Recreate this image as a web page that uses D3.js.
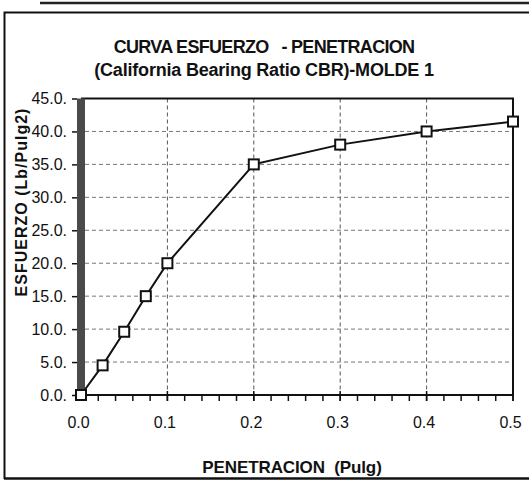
<!DOCTYPE html>
<html>
<head>
<meta charset="utf-8">
<script src="https://cdn.jsdelivr.net/npm/d3@7"></script>
<style>
  html, body { margin: 0; padding: 0; background: #fff; }
  svg { display: block; }
  text { font-family: "Liberation Sans", Arial, sans-serif; fill: #111; white-space: pre; }
</style>
</head>
<body>
<script>
// Penetration (in) and stress (lb/in²) readings for mould 1
const penetracion = [0, 0.025, 0.05, 0.075, 0.1, 0.2, 0.3, 0.4, 0.5];
const esfuerzo = [0, 4.5, 9.6, 15.0, 20.0, 35.0, 38.0, 40.0, 41.5];

const xTicks = [0, 0.1, 0.2, 0.3, 0.4, 0.5];
const xTickLabels = ["0.0", "0.1", "0.2", "0.3", "0.4", "0.5"];
const xMinorTicks = d3.range(0, 0.5001, 0.02);
const yTicks = [0, 5, 10, 15, 20, 25, 30, 35, 40, 45];
const yTickLabels = ["0.0.", "5.0.", "10.0.", "15.0.", "20.0.", "25.0.", "30.0.", "35.0.", "40.0.", "45.0."];

const titleLines = ["CURVA ESFUERZO   - PENETRACION", "(California Bearing Ratio CBR)-MOLDE 1"];
const xTitle = "PENETRACION  (Pulg)";
const yTitle = "ESFUERZO (Lb/Pulg2)";

const W = 529, H = 485;
const plot = { left: 81, right: 513, top: 98.5, bottom: 395 };

const svg = d3.select("body").append("svg").attr("width", W).attr("height", H);

// outer chart frame
svg.append("path")
  .attr("d", `M4.5,479 L4.5,12.5 L529,12.5`)
  .attr("fill", "none").attr("stroke", "#111").attr("stroke-width", 2);
svg.append("line")
  .attr("x1", 4).attr("x2", 529).attr("y1", 478.5).attr("y2", 478.5)
  .attr("stroke", "#111").attr("stroke-width", 2.5);
svg.append("line")
  .attr("x1", 40).attr("x2", 529).attr("y1", 3).attr("y2", 3)
  .attr("stroke", "#222").attr("stroke-width", 2.5);

const x = d3.scaleLinear().domain([0, 0.5]).range([plot.left, plot.right]);
const y = d3.scaleLinear().domain([0, 45]).range([plot.bottom, plot.top]);

// dashed grid
const grid = svg.append("g").attr("stroke", "#777").attr("stroke-width", 1).attr("stroke-dasharray", "4,3");
grid.selectAll("line.h").data(yTicks.filter(d => d > 0 && d < 45)).join("line")
  .attr("x1", plot.left + 4).attr("x2", plot.right)
  .attr("y1", d => y(d)).attr("y2", d => y(d));
grid.selectAll("line.v").data(xTicks.filter(d => d > 0 && d < 0.5)).join("line")
  .attr("y1", plot.top).attr("y2", plot.bottom)
  .attr("x1", d => x(d)).attr("x2", d => x(d))
  .attr("stroke", "#555");

// plot frame: top and right
svg.append("path")
  .attr("d", `M${plot.left},${plot.top} L${plot.right},${plot.top} L${plot.right},${plot.bottom}`)
  .attr("fill", "none").attr("stroke", "#111").attr("stroke-width", 2);

// x axis with minor ticks below and crossing major ticks
const xAxisG = svg.append("g").attr("transform", `translate(0,${plot.bottom})`);
xAxisG.append("line").attr("x1", plot.left - 4).attr("x2", plot.right)
  .attr("stroke", "#111").attr("stroke-width", 2);
xAxisG.selectAll("line.minor").data(xMinorTicks).join("line")
  .attr("x1", d => x(d)).attr("x2", d => x(d))
  .attr("y1", 0).attr("y2", 6)
  .attr("stroke", "#111").attr("stroke-width", 1.5);
xAxisG.selectAll("line.major").data(xTicks).join("line")
  .attr("x1", d => x(d)).attr("x2", d => x(d))
  .attr("y1", -4).attr("y2", 6)
  .attr("stroke", "#111").attr("stroke-width", 1.5);
const xAxis = d3.axisBottom(x).tickValues(xTicks)
  .tickFormat((d, i) => xTickLabels[i]).tickSize(0).tickPadding(22);
const xg = svg.append("g").attr("transform", `translate(0,${plot.bottom})`).call(xAxis);
xg.select(".domain").remove();
xg.selectAll("text").attr("font-size", 16).attr("fill", "#111")
  .style("font-family", "'Liberation Sans', Arial, sans-serif")
  .attr("dx", -3);

// y axis: thick bar and outward ticks
svg.append("rect")
  .attr("x", plot.left - 4).attr("y", plot.top)
  .attr("width", 8).attr("height", plot.bottom - plot.top)
  .attr("fill", "#4a4a4a");
const yAxis = d3.axisLeft(y).tickValues(yTicks)
  .tickFormat((d, i) => yTickLabels[i]).tickSize(5).tickPadding(5);
const yg = svg.append("g").attr("transform", `translate(${plot.left - 4},0)`).call(yAxis);
yg.select(".domain").remove();
yg.selectAll(".tick line").attr("stroke", "#111").attr("stroke-width", 1.5);
yg.selectAll("text").attr("font-size", 16).attr("fill", "#111")
  .style("font-family", "'Liberation Sans', Arial, sans-serif");

// series line and square markers
const line = d3.line().x((d, i) => x(penetracion[i])).y(d => y(d));
svg.append("path").datum(esfuerzo)
  .attr("d", line).attr("fill", "none")
  .attr("stroke", "#111").attr("stroke-width", 2);
const s = 10;
svg.append("g").selectAll("rect").data(esfuerzo).join("rect")
  .attr("x", (d, i) => x(penetracion[i]) - s / 2)
  .attr("y", d => y(d) - s / 2)
  .attr("width", s).attr("height", s)
  .attr("fill", "#fff").attr("stroke", "#111").attr("stroke-width", 2);

// titles
svg.append("text").attr("x", 264).attr("y", 53)
  .attr("text-anchor", "middle").attr("font-size", 18).attr("font-weight", "bold")
  .attr("letter-spacing", -0.7)
  .text(titleLines[0]);
svg.append("text").attr("x", 264).attr("y", 76)
  .attr("text-anchor", "middle").attr("font-size", 18).attr("font-weight", "bold")
  .attr("letter-spacing", -0.2)
  .text(titleLines[1]);
svg.append("text").attr("x", 292).attr("y", 473)
  .attr("text-anchor", "middle").attr("font-size", 17).attr("font-weight", "bold")
  .attr("letter-spacing", -0.1)
  .text(xTitle);
svg.append("text")
  .attr("transform", `translate(27,202) rotate(-90)`)
  .attr("text-anchor", "middle").attr("font-size", 16).attr("font-weight", "bold")
  .attr("letter-spacing", 1)
  .text(yTitle);
</script>
</body>
</html>
